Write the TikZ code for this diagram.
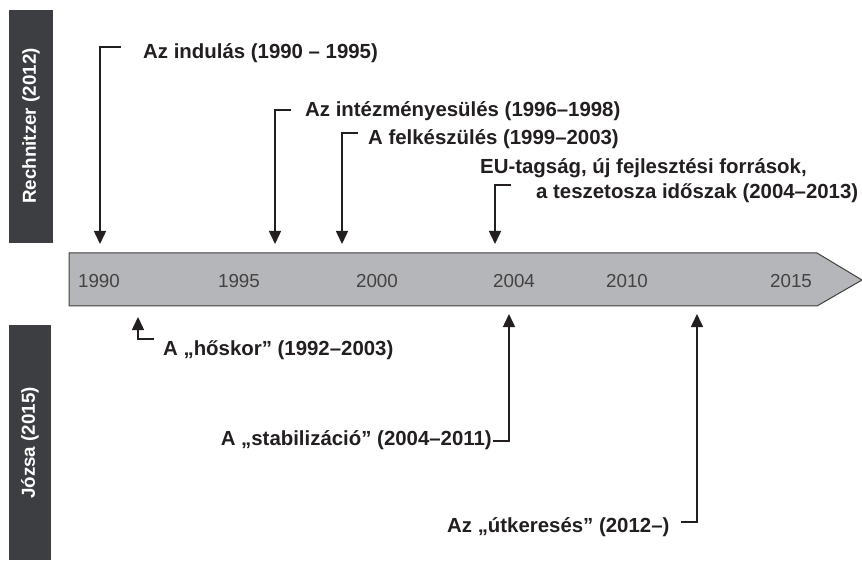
\documentclass[tikz,border=0pt]{standalone}
\usepackage{fontspec}
\setmainfont{Liberation Sans}
\usetikzlibrary{arrows.meta}
\definecolor{txt}{HTML}{231F20}
\definecolor{sidebox}{HTML}{3C3E41}
\definecolor{barfill}{HTML}{B4B6B9}
\definecolor{barline}{HTML}{404040}
\tikzset{
  lbl/.style={anchor=west,inner sep=0pt,text=txt,font=\fontsize{20.4}{23}\selectfont\bfseries},
  yr/.style={inner sep=0pt,text=txt!85,font=\fontsize{18.8}{22}\selectfont},
  side/.style={fill=sidebox,draw=none},
  sidetxt/.style={rotate=90,inner sep=0pt,text=white,font=\fontsize{18.8}{22}\selectfont\bfseries},
  con/.style={line width=1.5pt,draw=txt,-{Triangle[width=12pt,length=13pt]}}
}
\begin{document}
\begin{tikzpicture}[x=1pt,y=-1pt]
\useasboundingbox (0,0) rectangle (862,561);
% side boxes
\path[side] (9,10) rectangle (53,243);
\node[sidetxt] (rech) at (31,126) {Rechnitzer (2012)};
\path[side] (9,325) rectangle (51,560);
\node[sidetxt] (jozsa) at (30,443) {Józsa (2015)};
% timeline
\draw[fill=barfill,draw=barline,line width=1pt] (69,253) -- (817,253) -- (862,280) -- (817,306) -- (69,306) -- cycle;
\node[yr] (y1990) at (99,281) {1990};
\node[yr] (y1995) at (239,281) {1995};
\node[yr] (y2000) at (377,281) {2000};
\node[yr] (y2004) at (514,281) {2004};
\node[yr] (y2010) at (627,281) {2010};
\node[yr] (y2015) at (791,281) {2015};
% upper labels
\node[lbl] (l1) at (143,53) {Az indulás (1990 – 1995)};
\coordinate (s1) at (121,47); \coordinate (e1) at (100,244);
\draw[con] (s1) -| (e1);
\node[lbl] (l2) at (305,111) {Az intézményesülés (1996–1998)};
\coordinate (s2) at (291,110); \coordinate (e2) at (275,244);
\draw[con] (s2) -| (e2);
\node[lbl] (l3) at (368,139) {A felkészülés (1999–2003)};
\coordinate (s3) at (358,133); \coordinate (e3) at (342,244);
\draw[con] (s3) -| (e3);
\node[lbl] (l4a) at (480,168) {EU-tagság, új fejlesztési források,};
\node[lbl] (l4b) at (536,193) {a teszetosza időszak (2004–2013)};
\coordinate (s4) at (511,185); \coordinate (e4) at (495,244);
\draw[con] (s4) -| (e4);
% lower labels
\node[lbl] (l5) at (163,350) {A „hőskor” (1992–2003)};
\coordinate (s5) at (154,339); \coordinate (e5) at (138,317);
\draw[con] (s5) -| (e5);
\node[lbl,anchor=east] (l6) at (492,440) {A „stabilizáció” (2004–2011)};
\coordinate (s6) at (493,441); \coordinate (e6) at (509,314);
\draw[con] (s6) -| (e6);
\node[lbl] (l7) at (447,527) {Az „útkeresés” (2012–)};
\coordinate (s7) at (681,522); \coordinate (e7) at (697,314);
\draw[con] (s7) -| (e7);
\end{tikzpicture}
\end{document}
